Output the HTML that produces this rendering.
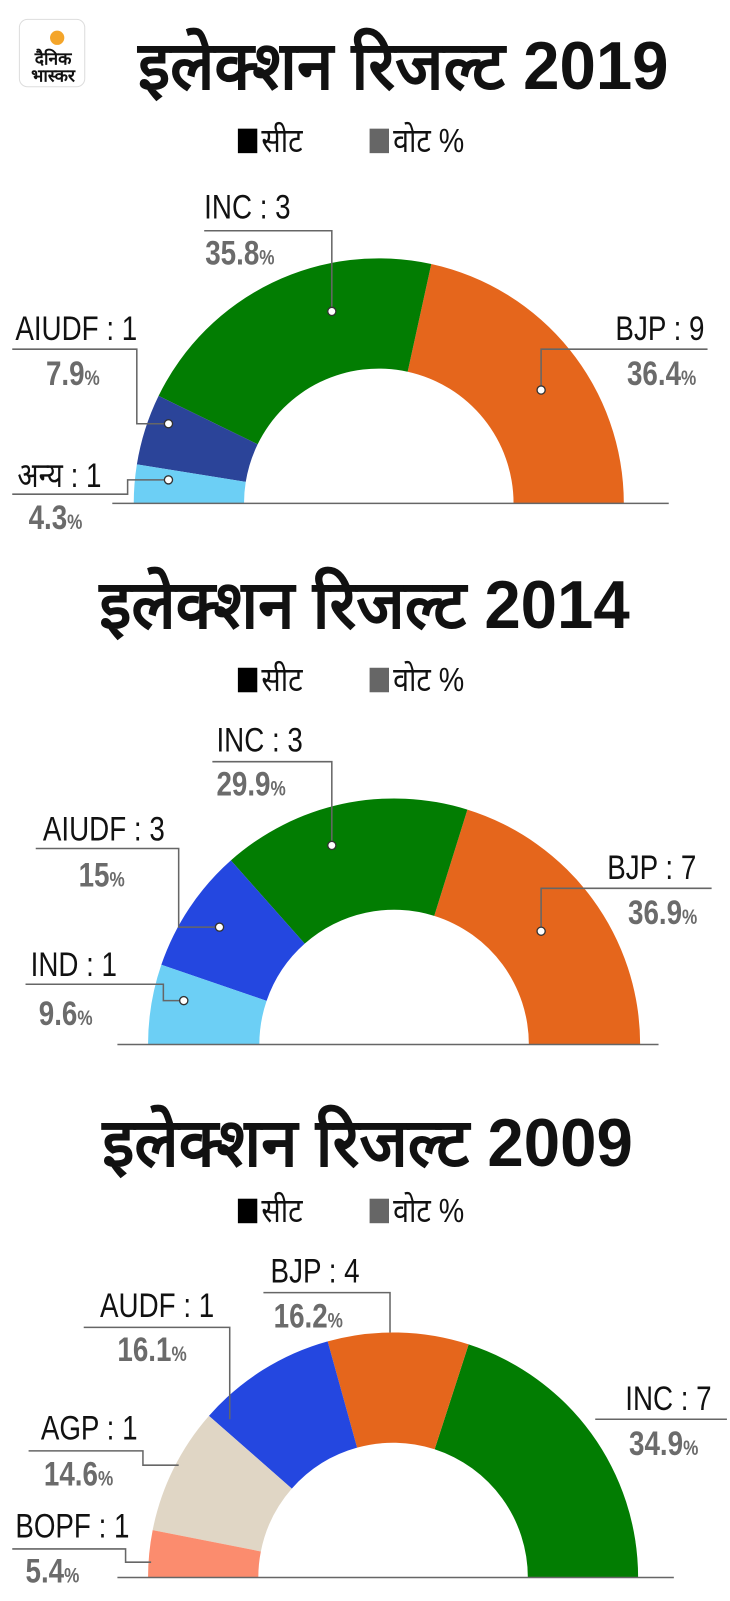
<!DOCTYPE html>
<html><head><meta charset="utf-8"><style>
body{margin:0;background:#fff;}
svg{display:block}
.t{font-family:"Liberation Sans","Noto Sans CJK SC",sans-serif;font-size:66px;font-weight:bold;fill:#111}
.lg{font-family:"Liberation Sans","Noto Sans CJK SC",sans-serif;font-size:33px;fill:#111}
.l{font-family:"Liberation Sans Narrow","Liberation Sans",sans-serif;font-size:34px;fill:#111}
.p{font-family:"Liberation Sans Narrow","Liberation Sans",sans-serif;font-size:34px;font-weight:bold;fill:#6b6b6b}
.p tspan{font-size:21px}
.ln{stroke:#666;stroke-width:1.5;fill:none}
.dot{fill:#fff;stroke:#333;stroke-width:1.3}
</style></head><body>
<svg id="s" width="730" height="1601" viewBox="0 0 715 1568" preserveAspectRatio="none" xmlns="http://www.w3.org/2000/svg">
<rect x="19" y="19" width="64" height="66" rx="8" fill="#fff" stroke="#ddd"/>
<circle cx="56" cy="37" r="7" fill="#f4a52a"/>
<text x="52" y="63" font-family="Liberation Sans,sans-serif" font-size="17" font-weight="bold" text-anchor="middle" fill="#111">दैनिक</text>
<text x="52" y="80" font-family="Liberation Sans,sans-serif" font-size="17" font-weight="bold" text-anchor="middle" fill="#111">भास्कर</text>

<text class="t" x="395" y="87" text-anchor="middle">इलेक्शन रिजल्ट 2019</text>
<text class="t" x="357" y="615" text-anchor="middle">इलेक्शन रिजल्ट 2014</text>
<text class="t" x="360" y="1142" text-anchor="middle">इलेक्शन रिजल्ट 2009</text>

<g id="leg"></g>
<g id="arcs"></g>

<text class="l" x="200" y="214">INC : 3</text>
<path class="ln" d="M200 226H325V305"/><circle class="dot" cx="325" cy="305" r="4"/>
<text class="p" x="201" y="259">35.8<tspan>%</tspan></text>
<text class="l" x="15" y="333">AIUDF : 1</text>
<path class="ln" d="M12 342H134V415H165"/><circle class="dot" cx="165" cy="415" r="4"/>
<text class="p" x="45" y="377">7.9<tspan>%</tspan></text>
<text class="l" x="17" y="477">अन्य : 1</text>
<path class="ln" d="M12 484H125V470H165"/><circle class="dot" cx="165" cy="470" r="4"/>
<text class="p" x="28" y="518">4.3<tspan>%</tspan></text>
<text class="l" x="690" y="333" text-anchor="end">BJP : 9</text>
<path class="ln" d="M693 342H530V382"/><circle class="dot" cx="530" cy="382" r="4"/>
<text class="p" x="682" y="377" text-anchor="end">36.4<tspan>%</tspan></text>
<path class="ln" d="M110 493H655"/>

<text class="l" x="212" y="736">INC : 3</text>
<path class="ln" d="M208 746H325V828"/><circle class="dot" cx="325" cy="828" r="4"/>
<text class="p" x="212" y="779">29.9<tspan>%</tspan></text>
<text class="l" x="42" y="823">AIUDF : 3</text>
<path class="ln" d="M35 831H175V908H215"/><circle class="dot" cx="215" cy="908" r="4"/>
<text class="p" x="77" y="868">15<tspan>%</tspan></text>
<text class="l" x="30" y="956">IND : 1</text>
<path class="ln" d="M25 964H160V980H180"/><circle class="dot" cx="180" cy="980" r="4"/>
<text class="p" x="38" y="1004">9.6<tspan>%</tspan></text>
<text class="l" x="682" y="861" text-anchor="end">BJP : 7</text>
<path class="ln" d="M697 870H530V912"/><circle class="dot" cx="530" cy="912" r="4"/>
<text class="p" x="683" y="905" text-anchor="end">36.9<tspan>%</tspan></text>
<path class="ln" d="M115 1023H645"/>

<text class="l" x="265" y="1256">BJP : 4</text>
<path class="ln" d="M258 1266H382V1305"/>
<text class="p" x="268" y="1300">16.2<tspan>%</tspan></text>
<text class="l" x="98" y="1290">AUDF : 1</text>
<path class="ln" d="M82 1300H225V1390"/>
<text class="p" x="115" y="1333">16.1<tspan>%</tspan></text>
<text class="l" x="40" y="1410">AGP : 1</text>
<path class="ln" d="M28 1421H140V1435H175"/>
<text class="p" x="43" y="1455">14.6<tspan>%</tspan></text>
<text class="l" x="15" y="1506">BOPF : 1</text>
<path class="ln" d="M12 1517H123V1530H148"/>
<text class="p" x="25" y="1550">5.4<tspan>%</tspan></text>
<text class="l" x="697" y="1381" text-anchor="end">INC : 7</text>
<path class="ln" d="M583 1390H712"/>
<text class="p" x="684" y="1425" text-anchor="end">34.9<tspan>%</tspan></text>
<path class="ln" d="M115 1545H660"/>
</svg>
<script>
var NS="http://www.w3.org/2000/svg";
function arcs(cx,cy,R,r,vals,cols){
 var tot=vals.reduce(function(a,b){return a+b},0),a0=0,g=document.getElementById('arcs');
 vals.forEach(function(v,i){
  var a1=a0+v/tot*Math.PI;
  function P(rad,a){return [cx-rad*Math.cos(a),cy-rad*Math.sin(a)];}
  var p1=P(R,a0),p2=P(R,a1),p3=P(r,a1),p4=P(r,a0);
  var d="M"+p1+" A"+R+" "+R+" 0 0 1 "+p2+" L"+p3+" A"+r+" "+r+" 0 0 0 "+p4+"Z";
  var e=document.createElementNS(NS,'path');e.setAttribute('d',d);e.setAttribute('fill',cols[i]);
  g.insertBefore(e,g.firstChild);a0=a1;
 });
}
arcs(371,493,240,132,[4.3,7.9,35.8,36.4],['#6ccff5','#2b4499','#027d02','#e5661c']);
arcs(386,1023,241,132,[9.6,15,29.9,36.9],['#6ccff5','#2447e0','#027d02','#e5661c']);
arcs(385,1545,240,132,[5.4,14.6,16.1,16.2,34.9],['#fb8c6e','#e0d6c5','#2447e0','#e5661c','#027d02']);
var lg=document.getElementById('leg'),h='';
[137,665,1185].forEach(function(y){
 h+='<rect x="233" y="'+(y-11)+'" width="19" height="24" fill="#000"/><text class="lg" x="256" y="'+(y+12)+'">सीट</text><rect x="362" y="'+(y-11)+'" width="19" height="24" fill="#666"/><text class="lg" x="385" y="'+(y+12)+'">वोट %</text>';
});
lg.innerHTML=h;
document.querySelectorAll('.l,.p,.lg').forEach(function(t){
 var w=t.getComputedTextLength();
 var f=t.classList.contains('lg')?0.85:0.8;
 t.setAttribute('textLength',(w*f).toFixed(1));
 t.setAttribute('lengthAdjust','spacingAndGlyphs');
});
document.querySelectorAll('.t').forEach(function(t){
 var w=t.getComputedTextLength();
 t.setAttribute('textLength',(w*0.97).toFixed(1));
 t.setAttribute('lengthAdjust','spacingAndGlyphs');
});
</script>
</body></html>
